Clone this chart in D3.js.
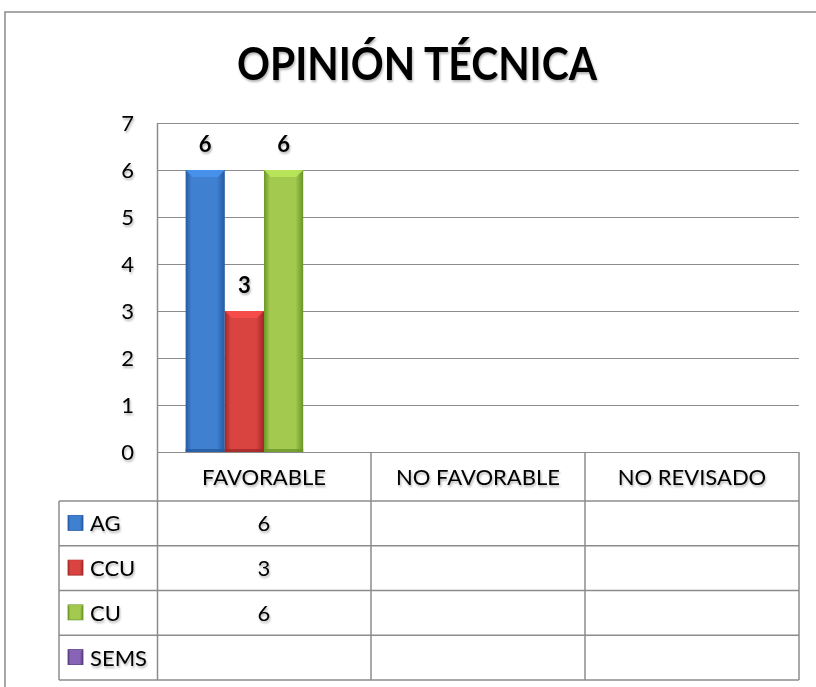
<!DOCTYPE html>
<html><head><meta charset="utf-8">
<script src="https://cdn.jsdelivr.net/npm/d3@7"></script>
<style>body{margin:0;background:#fff}svg{display:block}</style>
</head><body>
<script>
const title = "OPINIÓN TÉCNICA";
const categories = ["FAVORABLE", "NO FAVORABLE", "NO REVISADO"];
const seriesNames = ["AG", "CCU", "CU", "SEMS"];
const agValues = [6, null, null];
const ccuValues = [3, null, null];
const cuValues = [6, null, null];
const semsValues = [null, null, null];
const yTicks = [0, 1, 2, 3, 4, 5, 6, 7];
const seriesColors = {AG: ["#255aa0", "#3f80d0"], CCU: ["#a02828", "#d94340"], CU: ["#6a9628", "#a3c94f"], SEMS: ["#553a80", "#8764b5"]};

(function () {
const series = [
  {name: "AG", values: agValues},
  {name: "CCU", values: ccuValues},
  {name: "CU", values: cuValues},
  {name: "SEMS", values: semsValues}
];
const FONT = "Lato, Carlito, sans-serif";
const W = 816, H = 687;
const svg = d3.select("body").append("svg").attr("width", W).attr("height", H);
const defs = svg.append("defs");
const f = defs.append("filter").attr("id", "sh").attr("x", "-20%").attr("y", "-20%").attr("width", "140%").attr("height", "160%");
f.append("feDropShadow").attr("dx", 1).attr("dy", 2).attr("stdDeviation", 1.3).attr("flood-color", "#000").attr("flood-opacity", 0.3);

seriesNames.forEach(n => {
  const [dk, lt] = seriesColors[n];
  const g = defs.append("linearGradient").attr("id", "g" + n).attr("x1", 0).attr("x2", 1).attr("y1", 0).attr("y2", 0);
  g.append("stop").attr("offset", "0%").attr("stop-color", dk);
  g.append("stop").attr("offset", "15%").attr("stop-color", lt);
  g.append("stop").attr("offset", "80%").attr("stop-color", lt);
  g.append("stop").attr("offset", "100%").attr("stop-color", dk);
});

const gridColor = "#8c8c8c";
svg.append("path").attr("d", `M5,${H} V12 H${W}`).attr("fill", "none").attr("stroke", "#8a8a8a").attr("stroke-width", 1.5);

svg.append("text").attr("x", 417).attr("y", 80).attr("text-anchor", "middle")
  .attr("font-family", FONT).attr("font-weight", 700).attr("font-size", 46)
  .attr("textLength", 360).attr("lengthAdjust", "spacingAndGlyphs")
  .attr("filter", "url(#sh)").text(title);

const pLeft = 157, pRight = 799, pTop = 123, pBottom = 452;
const x = d3.scaleBand().domain(categories).range([pLeft, pRight]).paddingInner(0).paddingOuter(0);
const xs = d3.scaleBand().domain(seriesNames).range([0, x.bandwidth()]).paddingInner(0).paddingOuter(0.73);
const y = d3.scaleLinear().domain([0, 7]).range([pBottom, pTop]);

svg.append("g").selectAll("line").data(yTicks).join("line")
  .attr("x1", pLeft).attr("x2", pRight).attr("y1", d => Math.round(y(d)) + 0.5).attr("y2", d => Math.round(y(d)) + 0.5)
  .attr("stroke", gridColor).attr("stroke-width", 1.2);
svg.append("line").attr("x1", pLeft + 0.5).attr("x2", pLeft + 0.5).attr("y1", pTop).attr("y2", 680).attr("stroke", gridColor).attr("stroke-width", 1.5);

const yAxis = d3.axisLeft(y).tickValues(yTicks).tickFormat(d3.format("d")).tickSize(0).tickPadding(23);
const ya = svg.append("g").attr("transform", `translate(${pLeft},0)`).call(yAxis);
ya.select(".domain").remove();
ya.selectAll("text").attr("font-family", FONT).attr("font-size", 22).attr("fill", "#000").attr("filter", "url(#sh)");

const bars = [];
series.forEach(s => s.values.forEach((v, i) => { if (v != null) bars.push({s: s.name, c: categories[i], v}); }));
const bg = svg.append("g");
bars.forEach(b => {
  const bx = x(b.c) + xs(b.s), bw = xs.bandwidth(), by = y(b.v), bh = y(0) - y(b.v);
  const [dk, lt] = seriesColors[b.s];
  bg.append("rect").attr("x", bx).attr("y", by).attr("width", bw).attr("height", bh).attr("fill", `url(#g${b.s})`);
  const bev = 7;
  bg.append("path").attr("d", `M${bx},${by} H${bx + bw} L${bx + bw - bev},${by + bev} H${bx + bev} Z`).attr("fill", lt).attr("opacity", 0.9)
    .attr("style", "filter:brightness(1.15)");
  bg.append("rect").attr("x", bx).attr("y", y(0) - 3).attr("width", bw).attr("height", 3).attr("fill", dk).attr("opacity", 0.8);
  svg.append("text").attr("x", bx + bw / 2).attr("y", by - 18).attr("text-anchor", "middle")
    .attr("font-family", FONT).attr("font-weight", 700).attr("font-size", 22)
    .attr("filter", "url(#sh)").text(b.v);
});

const tblLeft = 59, headBottom = 501, rowH = 44.75;
const rowY = i => headBottom + i * rowH;
const tg = svg.append("g").attr("stroke", gridColor).attr("stroke-width", 1.5).attr("fill", "none");
categories.forEach((c, i) => {
  if (i > 0) tg.append("line").attr("x1", x(c)).attr("x2", x(c)).attr("y1", pBottom).attr("y2", rowY(4));
});
tg.append("line").attr("x1", pRight).attr("x2", pRight).attr("y1", pBottom).attr("y2", rowY(4));
tg.append("line").attr("x1", tblLeft).attr("x2", tblLeft).attr("y1", headBottom).attr("y2", rowY(4));
d3.range(5).forEach(i => tg.append("line").attr("x1", tblLeft).attr("x2", pRight).attr("y1", rowY(i)).attr("y2", rowY(i)));

svg.append("g").selectAll("text").data(categories).join("text")
  .attr("x", d => x(d) + x.bandwidth() / 2).attr("y", 485).attr("text-anchor", "middle")
  .attr("font-family", FONT).attr("font-size", 22).attr("filter", "url(#sh)").text(d => d);

series.forEach((s, r) => {
  const cy = rowY(r) + rowH / 2;
  const [dk, lt] = seriesColors[s.name];
  svg.append("rect").attr("x", 68).attr("y", cy - 8).attr("width", 15).attr("height", 15).attr("fill", `url(#g${s.name})`).attr("stroke", dk).attr("stroke-width", 0.8);
  svg.append("path").attr("d", `M68,${cy - 8} H83 L75.5,${cy - 1} Z`).attr("fill", lt).attr("opacity", 0.8);
  svg.append("text").attr("x", 90).attr("y", cy + 8).attr("font-family", FONT).attr("font-size", 22)
    .attr("filter", "url(#sh)").text(s.name);
  s.values.forEach((v, i) => {
    if (v == null) return;
    svg.append("text").attr("x", x(categories[i]) + x.bandwidth() / 2).attr("y", cy + 8).attr("text-anchor", "middle")
      .attr("font-family", FONT).attr("font-size", 22).attr("filter", "url(#sh)").text(v);
  });
});
})();
</script>
</body></html>
